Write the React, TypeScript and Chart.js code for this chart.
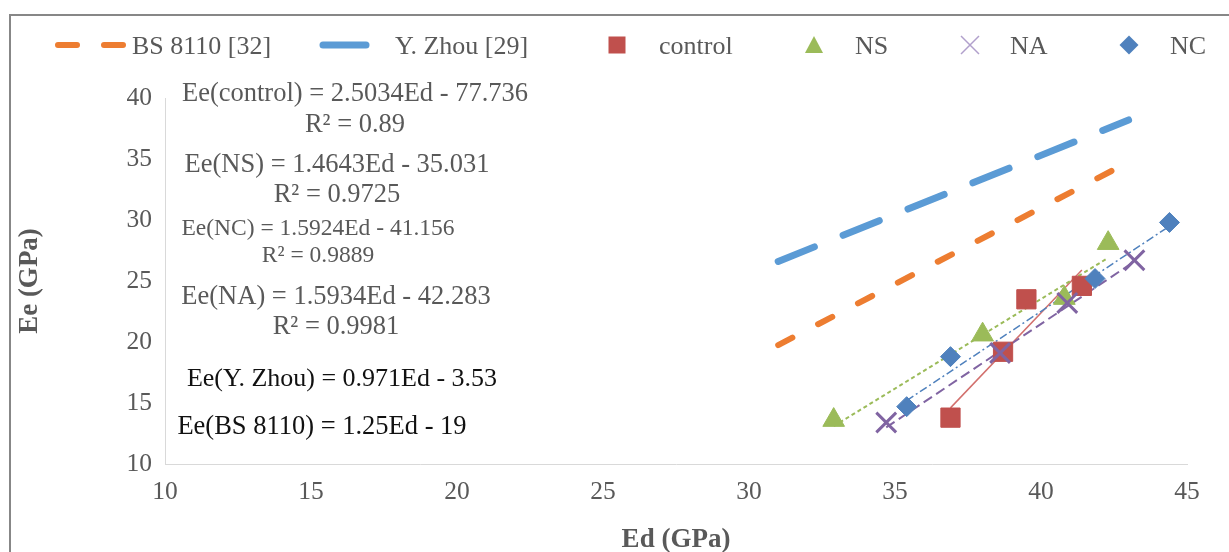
import React, { useEffect, useRef } from "react";
import { Chart, registerables } from "chart.js";

Chart.register(...registerables);

const FONT = "'Liberation Serif', 'Times New Roman', serif";

// ---- data ----
const xTicks = [10, 15, 20, 25, 30, 35, 40, 45];
const yTicks = [10, 15, 20, 25, 30, 35, 40];

const controlEd = [36.9, 38.7, 39.5, 41.4];
const controlEe = [13.8, 19.2, 23.5, 24.6];
const nsEd = [32.9, 38.0, 40.8, 42.3];
const nsEe = [13.6, 20.6, 23.6, 28.1];
const naEd = [34.7, 38.6, 40.9, 43.2];
const naEe = [13.4, 19.1, 23.2, 26.7];
const ncEd = [35.4, 36.9, 41.85, 44.4];
const ncEe = [14.7, 18.8, 25.2, 29.8];

// model lines (end points)
const bsEd = [31, 43];
const bsEe = [19.75, 34.75];
const zhouEd = [31, 43];
const zhouEe = [26.6, 38.2];

// linear trendlines (end points)
const controlTrendEd = [36.9, 41.4];
const controlTrendEe = [14.6, 25.9];
const nsTrendEd = [32.9, 42.3];
const nsTrendEe = [13.1, 26.9];
const naTrendEd = [34.7, 43.2];
const naTrendEe = [13.0, 26.6];
const ncTrendEd = [35.4, 44.4];
const ncTrendEe = [15.2, 29.5];

const legendLabels = ["BS 8110 [32]", "Y. Zhou [29]", "control", "NS", "NA", "NC"];

const equationTexts = [
  "Ee(control) = 2.5034Ed - 77.736",
  "R² = 0.89",
  "Ee(NS) = 1.4643Ed - 35.031",
  "R² = 0.9725",
  "Ee(NC) = 1.5924Ed - 41.156",
  "R² = 0.9889",
  "Ee(NA) = 1.5934Ed - 42.283",
  "R² = 0.9981",
  "Ee(Y. Zhou) = 0.971Ed - 3.53",
  "Ee(BS 8110) = 1.25Ed - 19",
];

const toPts = (xs: number[], ys: number[]) => xs.map((x, i) => ({ x, y: ys[i] }));

// ---- styles ----
const C_BS = "#ED7D31";
const C_ZHOU = "#5B9BD5";
const C_CONTROL = "#C0504D";
const C_NS = "#9BBB59";
const C_NA = "#8064A2";
const C_NC = "#4F81BD";
const C_TEXT = "#595959";

// equation label placement (centre x, centre y in px, font size, colour)
const eqLayout = [
  { cx: 355, cy: 94, size: 26.5, color: C_TEXT },
  { cx: 355, cy: 125, size: 26.5, color: C_TEXT },
  { cx: 337, cy: 165, size: 26.5, color: C_TEXT },
  { cx: 337, cy: 195, size: 26.5, color: C_TEXT },
  { cx: 318, cy: 229, size: 23.5, color: C_TEXT },
  { cx: 318, cy: 256, size: 23.5, color: C_TEXT },
  { cx: 336, cy: 297, size: 26.5, color: C_TEXT },
  { cx: 336, cy: 327, size: 26.5, color: C_TEXT },
  { cx: 342, cy: 379, size: 26, color: "#111" },
  { cx: 322, cy: 427, size: 26.5, color: "#111" },
];

const equationPlugin = {
  id: "equations",
  afterDraw(chart: any) {
    const ctx = chart.ctx as CanvasRenderingContext2D;
    ctx.save();
    ctx.textAlign = "center";
    ctx.textBaseline = "middle";
    equationTexts.forEach((t, i) => {
      const l = eqLayout[i];
      ctx.font = `${l.size}px ${FONT}`;
      ctx.fillStyle = l.color;
      ctx.fillText(t, l.cx, l.cy);
    });
    ctx.restore();
  },
};

const legendPlugin = {
  id: "customLegend",
  afterDraw(chart: any) {
    const ctx = chart.ctx as CanvasRenderingContext2D;
    const cy = 45;
    ctx.save();
    // BS 8110: dashed orange
    ctx.lineCap = "round";
    ctx.lineWidth = 6;
    ctx.strokeStyle = C_BS;
    ctx.setLineDash([19, 27]);
    ctx.beginPath();
    ctx.moveTo(58, cy);
    ctx.lineTo(123, cy);
    ctx.stroke();
    // Y. Zhou: blue
    ctx.setLineDash([]);
    ctx.lineWidth = 7;
    ctx.strokeStyle = C_ZHOU;
    ctx.beginPath();
    ctx.moveTo(323, cy);
    ctx.lineTo(366, cy);
    ctx.stroke();
    // control square
    ctx.fillStyle = C_CONTROL;
    ctx.fillRect(617 - 8.5, cy - 8.5, 17, 17);
    // NS triangle
    ctx.fillStyle = C_NS;
    ctx.beginPath();
    ctx.moveTo(814, cy - 9);
    ctx.lineTo(823, cy + 8);
    ctx.lineTo(805, cy + 8);
    ctx.closePath();
    ctx.fill();
    // NA cross
    ctx.strokeStyle = "#B1A0CC";
    ctx.lineWidth = 1.5;
    ctx.lineCap = "butt";
    ctx.beginPath();
    ctx.moveTo(961, cy - 9);
    ctx.lineTo(979, cy + 9);
    ctx.moveTo(979, cy - 9);
    ctx.lineTo(961, cy + 9);
    ctx.stroke();
    // NC diamond
    ctx.fillStyle = C_NC;
    ctx.beginPath();
    ctx.moveTo(1129, cy - 9.5);
    ctx.lineTo(1138.5, cy);
    ctx.lineTo(1129, cy + 9.5);
    ctx.lineTo(1119.5, cy);
    ctx.closePath();
    ctx.fill();
    // texts
    const xs = [132, 395, 659, 855, 1010, 1170];
    ctx.font = `26px ${FONT}`;
    ctx.fillStyle = C_TEXT;
    ctx.textAlign = "left";
    ctx.textBaseline = "middle";
    legendLabels.forEach((t, i) => ctx.fillText(t, xs[i], cy + 2));
    ctx.restore();
  },
};

export default function App() {
  const ref = useRef<HTMLCanvasElement | null>(null);

  useEffect(() => {
    if (!ref.current) return;
    const lineDs = (label: string, xs: number[], ys: number[], color: string, width: number, dash: number[], order: number, cap = "butt") => ({
      label,
      data: toPts(xs, ys),
      showLine: true,
      borderColor: color,
      backgroundColor: color,
      borderWidth: width,
      borderDash: dash,
      borderCapStyle: cap,
      pointRadius: 0,
      pointHoverRadius: 0,
      order,
    });
    const chart = new Chart(ref.current, {
      type: "scatter",
      data: {
        datasets: [
          {
            label: legendLabels[5],
            data: toPts(ncEd, ncEe),
            pointStyle: "rectRot",
            pointRadius: 10,
            backgroundColor: C_NC,
            borderColor: C_NC,
            borderWidth: 1,
            order: 0,
          },
          {
            label: legendLabels[4],
            data: toPts(naEd, naEe),
            pointStyle: "crossRot",
            pointRadius: 14,
            backgroundColor: C_NA,
            borderColor: C_NA,
            borderWidth: 3,
            order: 1,
          },
          {
            label: legendLabels[3],
            data: toPts(nsEd, nsEe),
            pointStyle: "triangle",
            pointRadius: 12.5,
            backgroundColor: C_NS,
            borderColor: C_NS,
            borderWidth: 1,
            order: 2,
          },
          {
            label: legendLabels[2],
            data: toPts(controlEd, controlEe),
            pointStyle: "rect",
            pointRadius: 13.6,
            backgroundColor: C_CONTROL,
            borderColor: C_CONTROL,
            borderWidth: 1,
            order: 3,
          },
          lineDs("NC trend", ncTrendEd, ncTrendEe, C_NC, 1.5, [8, 3, 2, 3], 4),
          lineDs("NA trend", naTrendEd, naTrendEe, C_NA, 2, [10, 5], 5),
          lineDs("NS trend", nsTrendEd, nsTrendEe, C_NS, 2, [4, 3], 6),
          lineDs("control trend", controlTrendEd, controlTrendEe, "#D2706D", 1.5, [], 7),
          lineDs(legendLabels[1], zhouEd, zhouEe, C_ZHOU, 7, [39, 31], 8, "round"),
          lineDs(legendLabels[0], bsEd, bsEe, C_BS, 6, [16, 29], 9, "round"),
        ] as any,
      },
      options: {
        responsive: false,
        animation: false,
        devicePixelRatio: 1,
        events: [],
        layout: { padding: { left: 8, right: 42, top: 98, bottom: 0 } },
        plugins: {
          legend: { display: false },
          tooltip: { enabled: false },
        },
        scales: {
          x: {
            type: "linear",
            min: 10,
            max: 45,
            afterBuildTicks: (s: any) => {
              s.ticks = xTicks.map((v) => ({ value: v }));
            },
            afterFit: (s: any) => {
              s.height = 88;
            },
            grid: { display: false, drawTicks: false },
            border: { display: true, color: "#D9D9D9", width: 1 },
            ticks: {
              padding: 13,
              color: C_TEXT,
              font: { family: FONT, size: 25.5 },
              maxRotation: 0,
              autoSkip: false,
            },
            title: {
              display: true,
              text: "Ed (GPa)",
              color: C_TEXT,
              font: { family: FONT, size: 27, weight: "bold" },
              padding: { top: 0, bottom: -4 },
            },
          },
          y: {
            type: "linear",
            min: 10,
            max: 40,
            afterBuildTicks: (s: any) => {
              s.ticks = yTicks.map((v) => ({ value: v }));
            },
            afterFit: (s: any) => {
              s.width = 157;
            },
            grid: { display: false, drawTicks: false },
            border: { display: true, color: "#D9D9D9", width: 1 },
            ticks: {
              padding: 13,
              color: C_TEXT,
              font: { family: FONT, size: 25.5 },
              autoSkip: false,
            },
            title: {
              display: true,
              text: "Ee (GPa)",
              color: C_TEXT,
              font: { family: FONT, size: 27, weight: "bold" },
              padding: { top: 6, bottom: 0 },
            },
          },
        },
      } as any,
      plugins: [equationPlugin, legendPlugin],
    });
    return () => chart.destroy();
  }, []);

  return (
    <div style={{ position: "fixed", left: 0, top: 0, width: 1229, height: 552, overflow: "hidden", background: "#fff" }}>
      <div
        style={{
          position: "absolute",
          left: 9,
          top: 14,
          width: 1300,
          height: 700,
          borderTop: "2px solid #878787",
          borderLeft: "2px solid #878787",
        }}
      />
      <canvas ref={ref} width={1229} height={552} style={{ position: "absolute", left: 0, top: 0, width: 1229, height: 552 }} />
    </div>
  );
}
